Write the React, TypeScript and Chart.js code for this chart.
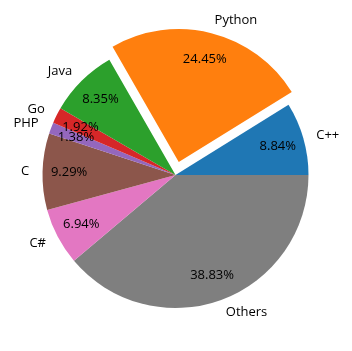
import React, { useEffect, useRef } from "react";
import { Chart, registerables } from "chart.js";

Chart.register(...registerables);

const languages = ["C++", "Python", "Java", "Go", "PHP", "C", "C#", "Others"];
const shares = [8.84, 24.45, 8.35, 1.92, 1.38, 9.29, 6.94, 38.83];
const sliceColors = ["#1f77b4", "#ff7f0e", "#2ca02c", "#d62728", "#9467bd", "#8c564b", "#e377c2", "#7f7f7f"];
const explodedSlice = "Python";

const RADIUS = 133;
const EXPLODE = 0.1;
const LABEL_DIST = 1.1;
const PCT_DIST = 0.8;
const FONT = "13px 'Open Sans'";

const labelPlugin = {
  id: "pieLabels",
  afterDatasetsDraw(chart: any) {
    const ctx = chart.ctx;
    const meta = chart.getDatasetMeta(0);
    const labels = chart.data.labels as string[];
    const values = chart.data.datasets[0].data as number[];
    const total = values.reduce((a: number, b: number) => a + b, 0);
    ctx.save();
    ctx.font = FONT;
    ctx.fillStyle = "#000";
    meta.data.forEach((arc: any, i: number) => {
      const mid = (arc.startAngle + arc.endAngle) / 2;
      const r = arc.outerRadius;
      let cx = arc.x;
      let cy = arc.y;
      if (labels[i] === explodedSlice) {
        cx += Math.cos(mid) * EXPLODE * r;
        cy += Math.sin(mid) * EXPLODE * r;
      }
      const lx = cx + Math.cos(mid) * LABEL_DIST * r;
      const ly = cy + Math.sin(mid) * LABEL_DIST * r;
      ctx.textBaseline = "middle";
      ctx.textAlign = lx > cx ? "left" : "right";
      ctx.fillText(labels[i], lx, ly);
      const px = cx + Math.cos(mid) * PCT_DIST * r;
      const py = cy + Math.sin(mid) * PCT_DIST * r;
      ctx.textAlign = "center";
      ctx.fillText(((values[i] / total) * 100).toFixed(2) + "%", px, py);
    });
    ctx.restore();
  },
};

export default function App() {
  const ref = useRef<HTMLCanvasElement | null>(null);
  useEffect(() => {
    if (!ref.current) return;
    // Chart.js draws clockwise; reverse to reproduce counter-clockwise order from 3 o'clock
    const lbls = [...languages].reverse();
    const vals = [...shares].reverse();
    const cols = [...sliceColors].reverse();
    const offsets = lbls.map((l) => (l === explodedSlice ? 4 * EXPLODE * RADIUS : 0));
    const chart = new Chart(ref.current, {
      type: "pie",
      data: {
        labels: lbls,
        datasets: [
          {
            data: vals,
            backgroundColor: cols,
            borderWidth: 0,
            offset: offsets,
            hoverOffset: 0,
          } as any,
        ],
      },
      options: {
        animation: false,
        responsive: false,
        rotation: 90,
        radius: RADIUS,
        layout: { padding: { left: 0, top: 0, right: 1, bottom: 1 } },
        plugins: { legend: { display: false }, tooltip: { enabled: false } },
        events: [],
      } as any,
      plugins: [labelPlugin],
    });
    return () => chart.destroy();
  }, []);
  return (
    <div style={{ position: "fixed", left: 0, top: 0, width: 352, height: 351, background: "#fff" }}>
      <canvas ref={ref} width={352} height={351} />
    </div>
  );
}
